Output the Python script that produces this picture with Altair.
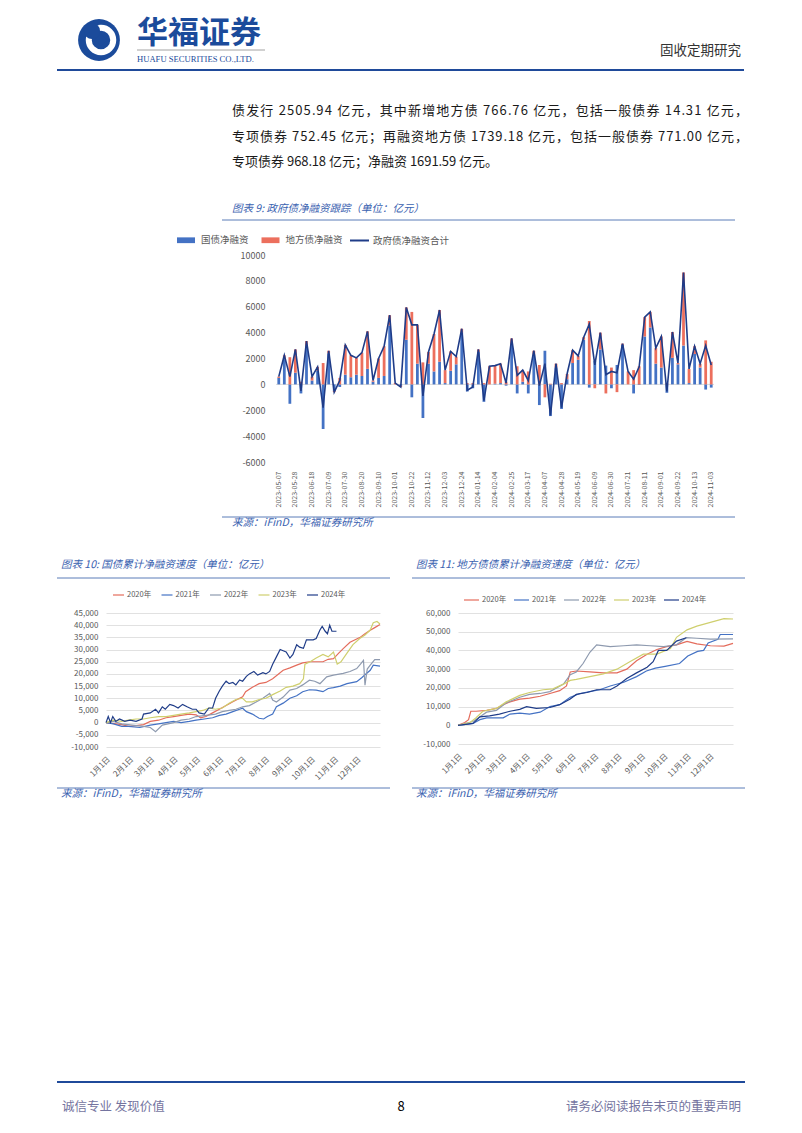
import altair as alt
import pandas as pd

FONT = "Noto Sans CJK SC"
GRAY = "#595959"

# ---------------- data: chart 9 (weekly net financing, 100m CNY) ----------------
weeks = pd.date_range("2023-05-07", periods=79, freq="7D").strftime("%Y-%m-%d").tolist()
tick_dates = ["2023-05-07", "2023-05-28", "2023-06-18", "2023-07-09", "2023-07-30", "2023-08-20",
              "2023-09-10", "2023-10-01", "2023-10-22", "2023-11-12", "2023-12-03", "2023-12-24",
              "2024-01-14", "2024-02-04", "2024-02-25", "2024-03-17", "2024-04-07", "2024-04-28",
              "2024-05-19", "2024-06-09", "2024-06-30", "2024-07-21", "2024-08-11", "2024-09-01",
              "2024-09-22", "2024-10-13", "2024-11-03"]
gov_net = [500, 1950, -1500, 900, -700, 2950, 300, 1050, -3450, 2400,
           -500, -200, 750, 550, 750, 650, 1200, 200, 500, 650,
           4550, 0, -100, 3450, -1000, 1600, -2600, 1600, 1000, 1750,
           100, 1050, 1550, 4000, -550, -300, 2500, -1350, 0, 50,
           100, -100, 3050, -700, 200, -700, 2300, -1600, 2600, -2450,
           1300, -1900, 400, 1650, 1900, 3450, -250, 1800, 2700, 1450,
           -300, 1500, 3050, 0, -700, -50, 3700, 4400, 1600, 1300,
           -650, 2050, 1550, 3000, 100, 2350, 1300, -400, -250]
local_net = [100, 300, 2100, 1800, 200, 400, 300, 300, 1650, 200,
             -100, 500, 2300, 1700, 1300, 1800, 2900, 100, 1500, 2300,
             800, 100, -100, 2500, 5600, 3000, 1700, 900, 2900, 4000,
             1000, 1500, 600, 300, 100, 100, 200, 100, 1400, 1400,
             1500, 200, 500, 1400, 900, 1000, 300, 1500, -1000, 50,
             300, 100, 400, 1000, 300, 200, 4900, -300, 1300, -700,
             1300, -600, 100, 1000, 1100, 1400, 1500, 1200, 1200, 2400,
             100, 2000, 100, 5650, 1100, 600, 300, 3400, 1750]
series9 = ["国债净融资", "地方债净融资"]
line9 = "政府债净融资合计"

# ---------------- data: charts 10 / 11 (cumulative, by day of year) ----------------
years = ["2020年", "2021年", "2022年", "2023年", "2024年"]
year_colors = ["#E46C5C", "#4472C4", "#8E9AAF", "#CFCF6E", "#1F3C88"]
month_days = [0, 31, 59, 90, 120, 151, 181, 212, 243, 273, 304, 334]

gz_2020 = [(0, 0), (8, -300), (21, -800), (30, -1500), (40, -1200), (50, -800), (59, 500), (70, 1000),
           (80, 2000), (90, 2500), (100, 3000), (111, 3500), (120, 3200), (126, 2000), (133, 2500),
           (142, 4000), (151, 5500), (160, 7000), (169, 8600), (178, 10000), (182, 10600), (186, 12700),
           (195, 14500), (204, 16000), (213, 16500), (222, 18000), (236, 21500), (245, 22500),
           (254, 23600), (262, 24500), (271, 25000), (280, 25000), (289, 25000), (296, 26000),
           (303, 26300), (310, 28500), (316, 30400), (325, 33000), (338, 34900), (345, 36500),
           (352, 37900), (358, 39000), (365, 40300)]
gz_2021 = [(0, 0), (10, -500), (21, -1500), (30, -1500), (45, -2000), (59, -1000), (70, -500), (80, 0),
           (90, 500), (100, 0), (111, 500), (120, 1000), (131, 1500), (142, 2000), (151, 3000),
           (160, 3500), (169, 4500), (178, 5500), (182, 5900), (187, 4500), (195, 3500), (204, 1800),
           (210, 1500), (215, 2500), (222, 3500), (227, 6500), (236, 8000), (245, 10000), (254, 11000),
           (262, 12700), (271, 13500), (280, 13350), (289, 12700), (296, 14000), (303, 14400),
           (312, 15000), (321, 16000), (334, 16800), (341, 18500), (347, 20200), (352, 21500),
           (356, 23600), (365, 23200)]
gz_2022 = [(0, 0), (10, 500), (21, -500), (35, -1000), (50, -1500), (59, -2000), (66, -3700), (75, -1000),
           (90, 0), (100, 1000), (111, 1500), (120, 2500), (133, 3000), (146, 3500), (155, 4500),
           (164, 5000), (173, 5500), (182, 6500), (191, 7000), (200, 8500), (209, 10000), (218, 12000),
           (222, 9300), (227, 8500), (236, 10500), (245, 13350), (254, 14000), (262, 15500), (271, 17400),
           (278, 17000), (285, 16000), (294, 18800), (303, 19500), (316, 20200), (325, 21000),
           (334, 22200), (339, 24000), (343, 25600), (345, 15400), (348, 22000), (352, 23600),
           (358, 25900), (365, 25900)]
gz_2023 = [(0, 0), (10, 1000), (21, 500), (30, 1000), (40, 1500), (50, 1500), (59, 2000), (70, 2500),
           (80, 2500), (90, 3000), (100, 3500), (111, 4000), (120, 4500), (129, 5000), (137, 6000),
           (146, 5500), (155, 6000), (164, 8000), (173, 9500), (182, 10000), (187, 8500), (195, 8500),
           (204, 9500), (213, 10000), (222, 11500), (232, 13000), (240, 14500), (249, 15000),
           (258, 16000), (263, 18000), (265, 24000), (272, 25000), (280, 26500), (289, 28000),
           (296, 27000), (303, 29000), (308, 24000), (313, 25000), (321, 28500), (329, 32000),
           (338, 34500), (345, 36000), (352, 38000), (356, 41000), (361, 41500), (365, 40500)]
gz_2024 = [(0, 0), (3, 2500), (6, 0), (9, 2500), (13, 500), (18, 1500), (25, 500), (32, 1000), (40, 500),
           (48, 1500), (50, 3500), (59, 4000), (66, 5500), (70, 4000), (75, 6500), (79, 5500),
           (85, 7500), (90, 7000), (96, 6000), (102, 7500), (108, 6500), (115, 5500), (120, 5500),
           (124, 4000), (131, 3500), (137, 6000), (142, 6000), (146, 10000), (151, 13000), (155, 15000),
           (160, 17000), (164, 16000), (169, 16500), (173, 15500), (178, 17500), (182, 17000),
           (187, 19000), (191, 20000), (197, 21000), (202, 19500), (209, 20500), (213, 20000),
           (218, 21000), (222, 24000), (227, 27000), (232, 30000), (236, 29500), (240, 29000),
           (245, 26500), (249, 28000), (254, 32000), (258, 31000), (263, 30500), (267, 34000),
           (276, 34000), (280, 34500), (285, 38000), (288, 39500), (292, 37500), (295, 36500),
           (298, 40000), (301, 37500), (307, 37500)]

df_2020 = [(0, 0), (9, 1500), (14, 3000), (17, 7500), (24, 7500), (38, 8000), (51, 9000), (60, 11000),
           (69, 12500), (82, 14000), (95, 14500), (109, 15500), (122, 17000), (135, 18500), (144, 21000),
           (149, 28500), (157, 29000), (175, 28500), (193, 28000), (211, 28000), (224, 30000),
           (237, 34500), (251, 38000), (264, 40500), (277, 42000), (290, 43000), (304, 44800),
           (317, 43500), (335, 42500), (353, 42300), (365, 43800)]
df_2021 = [(0, 0), (20, 1000), (29, 3000), (38, 4000), (60, 4000), (69, 6000), (82, 6500), (95, 6000),
           (109, 7000), (122, 10000), (135, 11000), (149, 15000), (162, 17000), (175, 18000),
           (188, 19000), (202, 21000), (220, 23000), (237, 26000), (250, 29000), (262, 30500),
           (275, 31500), (294, 33000), (305, 37000), (318, 39500), (326, 40000), (332, 44000),
           (345, 46000), (348, 48500), (365, 48500)]
df_2022 = [(0, 0), (20, 2000), (38, 7000), (51, 8000), (64, 12000), (82, 15000), (95, 16500),
           (109, 17000), (122, 18000), (140, 22000), (149, 27000), (157, 28500), (166, 33000),
           (175, 39000), (184, 43000), (202, 42000), (220, 42500), (237, 43000), (255, 42500),
           (273, 42000), (290, 43000), (303, 46800), (317, 46500), (335, 46000), (365, 46200)]
df_2023 = [(0, 0), (16, 1500), (24, 4000), (33, 7500), (51, 9000), (64, 12500), (82, 16000),
           (95, 17500), (113, 19000), (126, 19500), (140, 22000), (149, 24000), (157, 24500),
           (175, 26000), (193, 27500), (211, 30000), (228, 34000), (246, 38000), (264, 38000),
           (282, 41000), (290, 47000), (304, 51000), (317, 53000), (335, 55000), (353, 57000),
           (365, 56800)]
df_2024 = [(0, 0), (20, 1000), (29, 4500), (42, 5000), (55, 6000), (69, 7500), (82, 8500), (91, 10000),
           (104, 9000), (122, 9500), (135, 11000), (149, 14000), (157, 16500), (171, 17500),
           (184, 19000), (202, 19000), (211, 21000), (224, 25000), (237, 28000), (251, 31000),
           (259, 34000), (266, 40000), (277, 40000), (290, 45000), (303, 46800)]


def cum_frame(series):
    rows = []
    for yr, pts in zip(years, series):
        for d, v in pts:
            rows.append({"year": yr, "day": d, "value": v})
    return pd.DataFrame(rows)


cum10 = cum_frame([gz_2020, gz_2021, gz_2022, gz_2023, gz_2024])
cum11 = cum_frame([df_2020, df_2021, df_2022, df_2023, df_2024])

# ---------------- page text ----------------
para_lines = ["债发行 2505.94 亿元，其中新增地方债 766.76 亿元，包括一般债券 14.31 亿元，",
              "专项债券 752.45 亿元；再融资地方债 1739.18 亿元，包括一般债券 771.00 亿元，",
              "专项债券 968.18 亿元；净融资 1691.59 亿元。"]

# ---------------- page decorations (page coordinates, converted to view offsets) ----------------
one = pd.DataFrame({"k": [0]})
CAP = "#3A62B0"


def make_helpers(ox, oy):
    def T(text, x, y, size, color="#222222", align="left", weight="normal", style="normal", font=FONT):
        return alt.Chart(one).mark_text(text=text, align=align, baseline="middle", fontSize=size,
                                        color=color, fontWeight=weight, fontStyle=style, font=font
                                        ).encode(x=alt.value(x - ox), y=alt.value(y - oy))

    def H(x1, x2, y, color, w, opacity=1):
        return alt.Chart(one).mark_rule(color=color, strokeWidth=w, opacity=opacity).encode(
            x=alt.value(x1 - ox), x2=alt.value(x2 - ox), y=alt.value(y - oy))

    def P(x, y, size, color, shape="circle", filled=True, sw=1):
        return alt.Chart(one).mark_point(shape=shape, size=size, filled=filled, color=color,
                                         opacity=1, strokeWidth=sw).encode(
            x=alt.value(x - ox), y=alt.value(y - oy))
    return T, H, P


SPLIT = 540   # page y where the two rows meet (invisible anchors)
BODY = 13
OX1, OY1 = 106, 255


def glyph_w(c, size):
    if ord(c) > 0x2E80:
        return size
    if c == ".":
        return 0.25 * size
    if c == " ":
        return 0.23 * size
    return 0.55 * size


def para_layer(lines, x0, ys, widths, size):
    rows = []
    for line, y, width in zip(lines, ys, widths):
        ws = [glyph_w(c, size) for c in line]
        extra = 0 if width is None else (width - sum(ws)) / (len(line) - 1)
        x = x0
        for c, w in zip(line, ws):
            rows.append({"ch": c, "px": x - OX1, "py": y - OY1})
            x += w + extra
    return alt.Chart(pd.DataFrame(rows)).mark_text(
        align="left", baseline="middle", fontSize=size, color="#1a1a1a", font=FONT
    ).encode(x=alt.X("px:Q", scale=None, axis=None), y=alt.Y("py:Q", scale=None, axis=None),
             text="ch:N")


# row 1 decorations: origin = chart 9 row origin
T1, H1, P1 = make_helpers(OX1, OY1)
decor_layers = [
    H1(8, 794, 8, "#ffffff", 1, opacity=0),          # page anchor (top-left)
    H1(8, 794, SPLIT, "#ffffff", 1, opacity=0),      # row split anchor
    # header
    P1(99, 40, 1750, "#1B4B9B"),
    P1(101, 40, 600, "#ffffff", filled=False, sw=6),
    P1(92, 31, 260, "#1B4B9B"),
    P1(101, 40, 150, "#1B4B9B", shape="diamond"),
    T1("华福证券", 137, 34, 31, color="#1B4B9B", weight="bold"),
    H1(137, 265, 50, "#8A8A8A", 0.8),
    T1("HUAFU SECURITIES CO.,LTD.", 137, 58.5, 8.6, color="#1B4B9B", font="Liberation Serif"),
    T1("固收定期研究", 741, 51, 13.5, color="#333333", align="right"),
    H1(57, 744, 70, "#1F4A9A", 2),
    # paragraph (first two lines justified)
    para_layer(para_lines, 232, [111, 137, 162], [516, 516, None], BODY),
    # figure 9 caption + source
    T1("图表 9: 政府债净融资跟踪（单位：亿元）", 232, 209, 10.5, color=CAP, style="italic"),
    H1(222, 735, 220, "#5B7DB8", 1),
    H1(222, 735, 517, "#5B7DB8", 1),
    T1("来源：iFinD，华福证券研究所", 232, 523, 10.5, color=CAP, style="italic"),
]
decor = alt.layer(*decor_layers).properties(width=170, height=207)

# row 2 decorations: origin = chart 10 origin (page 106, 613)
T2, H2, P2 = make_helpers(106, 613)
decor2_layers = [
    H2(57, 745, SPLIT, "#ffffff", 1, opacity=0),     # row split anchor
    T2("图表 10: 国债累计净融资速度（单位：亿元）", 61, 565, 10.5, color=CAP, style="italic"),
    H2(57, 390, 578, "#5B7DB8", 1),
    T2("图表 11: 地方债债累计净融资速度（单位：亿元）", 416, 565, 10.5, color=CAP, style="italic"),
    H2(412, 745, 578, "#5B7DB8", 1),
    H2(57, 390, 788, "#5B7DB8", 1),
    T2("来源：iFinD，华福证券研究所", 61, 794, 10.5, color=CAP, style="italic"),
    H2(412, 745, 788, "#5B7DB8", 1),
    T2("来源：iFinD，华福证券研究所", 416, 794, 10.5, color=CAP, style="italic"),
    # footer
    H2(57, 745, 1082, "#1F4A9A", 2),
    T2("诚信专业  发现价值", 62, 1107, 12.5, color="#7474A0"),
    T2("8", 401, 1107, 13, color="#000000", align="center"),
    T2("请务必阅读报告末页的重要声明", 741, 1107, 12.5, color="#7474A0", align="right"),
]

# ---------------- chart 9 ----------------
bars_df = pd.DataFrame({
    "date": weeks + weeks,
    "series": [series9[0]] * len(weeks) + [series9[1]] * len(weeks),
    "value": gov_net + local_net,
    "ord": [0] * len(weeks) + [1] * len(weeks),
})
line_df = pd.DataFrame({"date": weeks, "value": [g + l for g, l in zip(gov_net, local_net)],
                        "series": line9})
zero_df = pd.DataFrame({"base": [0]})

x_axis9 = alt.Axis(values=tick_dates, labelAngle=-90, labelFontSize=7, labelColor=GRAY,
                   labelPadding=9, ticks=False, domain=False, title=None, grid=False,
                   labelOverlap=False)
y_axis9 = alt.Axis(values=list(range(-6000, 10001, 2000)), grid=False, ticks=False, domain=False,
                   labelFontSize=9, labelColor=GRAY, labelPadding=11, title=None,
                   labelOverlap=False,
                   labelExpr="(datum.value < 0 ? '-' : '') + abs(datum.value)")
y_scale9 = alt.Scale(domain=[-6000, 10000], nice=False)
x_scale9 = alt.Scale(paddingInner=0.5, paddingOuter=0.25)

zero9 = alt.Chart(zero_df).mark_rule(color="#D9D9D9", strokeWidth=1).encode(
    y=alt.Y("base:Q", scale=y_scale9, axis=y_axis9))
bars9 = alt.Chart(bars_df).mark_bar().encode(
    x=alt.X("date:O", scale=x_scale9, axis=x_axis9),
    y=alt.Y("value:Q", stack="zero", scale=y_scale9, axis=y_axis9),
    color=alt.Color("series:N", scale=alt.Scale(domain=series9, range=["#4472C4", "#EC6F5D"]),
                    legend=alt.Legend(orient="none", legendX=70, legendY=-25, direction="horizontal",
                                      title=None, symbolType="M-1,-0.32H1V0.32H-1Z", symbolSize=324,
                                      labelFontSize=9.5, labelColor=GRAY, labelOffset=5,
                                      columnPadding=11.5, padding=0)),
    order=alt.Order("ord:Q"),
)
line9c = alt.Chart(line_df).mark_line(strokeWidth=1.6).encode(
    x=alt.X("date:O", scale=x_scale9, axis=x_axis9),
    y=alt.Y("value:Q", scale=y_scale9, axis=y_axis9),
    stroke=alt.Stroke("series:N", scale=alt.Scale(domain=[line9], range=["#1F3C88"]),
                      legend=alt.Legend(orient="none", legendX=243, legendY=-25, direction="horizontal",
                                        title=None, symbolType="stroke", symbolSize=361,
                                        symbolStrokeWidth=2, labelFontSize=9.5, labelColor=GRAY,
                                        labelOffset=3, padding=0)),
)
chart9 = alt.layer(zero9, bars9, line9c).properties(width=438, height=207)


# ---------------- charts 10 / 11 ----------------
def cum_chart(df, ymin, ymax, step, lx, ly, sym, colpad):
    return alt.Chart(df).mark_line(interpolate="linear").encode(
        x=alt.X("day:Q", scale=alt.Scale(domain=[0, 365], nice=False, zero=False),
                axis=alt.Axis(values=month_days, labelAngle=-45, labelFontSize=8, labelColor=GRAY,
                              labelPadding=8, ticks=False, domain=False, grid=False, title=None,
                              labelOverlap=False,
                              labelExpr="(month(datetime(2001, 0, 1 + datum.value)) + 1) + '月1日'")),
        y=alt.Y("value:Q", scale=alt.Scale(domain=[ymin, ymax], nice=False),
                axis=alt.Axis(values=list(range(ymin, ymax + 1, step)), grid=True, gridColor="#D9D9D9",
                              gridWidth=0.8, ticks=False, domain=False, labelFontSize=8,
                              labelColor=GRAY, labelPadding=8, title=None, labelOverlap=False,
                              labelExpr="(datum.value < 0 ? '-' : '') + format(abs(datum.value), ',')")),
        color=alt.Color("year:N", scale=alt.Scale(domain=years, range=year_colors),
                        legend=alt.Legend(orient="none", legendX=lx, legendY=ly, direction="horizontal",
                                          title=None, symbolType="stroke", symbolSize=sym,
                                          symbolStrokeWidth=2, labelFontSize=7.5, labelColor=GRAY,
                                          labelOffset=2, columnPadding=colpad, padding=0)),
        strokeWidth=alt.StrokeWidth("year:N", scale=alt.Scale(domain=years, range=[1.2, 1.2, 1.2, 1.2, 1.8]),
                                    legend=None),
        order=alt.Order("day:Q"),
    )


chart10 = alt.layer(cum_chart(cum10, -10000, 45000, 5000, 6, -24.5, 121, 6.5),
                    *decor2_layers).properties(width=274, height=134)
chart11 = cum_chart(cum11, -10000, 60000, 10000, 5, -21.5, 225, 4).properties(width=275, height=131)

row1 = alt.hconcat(decor, chart9, spacing=0, bounds="flush")
row2 = alt.hconcat(chart10, chart11, spacing=78, bounds="flush").resolve_scale(
    color="independent", strokeWidth="independent").resolve_legend(color="independent")

page = alt.vconcat(row1, row2, spacing=0, padding=0).resolve_scale(
    color="independent", stroke="independent", strokeWidth="independent"
).resolve_legend(color="independent", stroke="independent").configure_view(
    stroke=None).configure_axis(labelFont=FONT).configure_legend(labelFont=FONT).configure_text(font=FONT)

page.save("out.html", embed_options={"renderer": "svg", "actions": False})
